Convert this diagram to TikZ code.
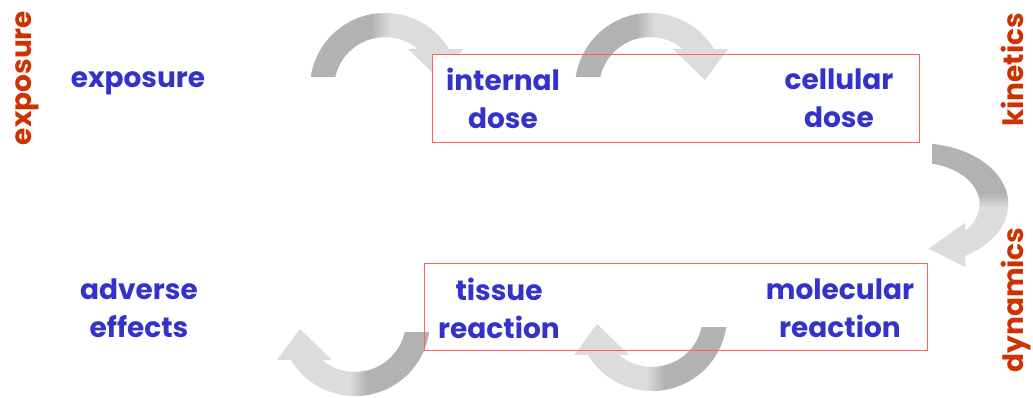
\documentclass[tikz,border=0pt]{standalone}
\usepackage{fontspec}
\setmainfont{Poppins}

\definecolor{txtblue}{RGB}{51,51,204}
\definecolor{txtorange}{RGB}{204,51,0}
\definecolor{boxred}{RGB}{255,96,96}
\definecolor{arrowdark}{RGB}{178,178,178}
\definecolor{arrowlight}{RGB}{220,220,220}

% curved grey arrow: tail on the left, arc over the top, head pointing down
\newcommand{\grayarrow}[1]{%
  \begin{scope}[#1]
    \clip (171.5:75) arc[start angle=171.5, end angle=31.3, radius=75]
      -- (78,39) -- (55,8) -- (23,39)
      -- (49.9:51) arc[start angle=49.9, end angle=167.5, radius=51] -- cycle;
    \fill[arrowlight] (-90,-90) rectangle (90,90);
    \fill[arrowdark] (-90,-90) rectangle (-12,90);
    % soft change from dark to light
    \foreach \i in {1,...,8}
      \fill[arrowdark!\the\numexpr 100-11*\i\relax!arrowlight]
        (-14+2*\i,-90) rectangle (-12+2*\i,90);
  \end{scope}}

\begin{document}
\begin{tikzpicture}[x=1pt, y=1pt,
  lbl/.style={text=txtblue, font=\fontsize{28}{38}\selectfont\bfseries,
    align=center, inner sep=0pt},
  side/.style={lbl, text=txtorange, rotate=90},
  box/.style={draw=boxred, line width=1pt}]

  \fill[white] (0,0) rectangle (1033,397);
  \useasboundingbox (0,0) rectangle (1033,397);

  % kinetics: exposure -> internal -> cellular
  \grayarrow{shift={(385,309)}}
  \fill[white] (432,255) rectangle (919,342);
  \grayarrow{shift={(650,309)}}
  \draw[box] (432,255) rectangle (919,342);

  % kinetics -> dynamics
  \grayarrow{cm={0,-0.81,1.19,0,(919,193)}}

  % dynamics: molecular -> tissue -> adverse
  \grayarrow{shift={(652,81)}, rotate=180}
  \grayarrow{shift={(355,76)}, rotate=180}
  \draw[box] (424,47) rectangle (927,134);

  % labels
  \node[lbl, anchor=base] (exposure) at (138,309) {exposure};
  \node[lbl] (internal) at (503,299) {internal\\dose};
  \node[lbl] (cellular) at (839,299) {cellular\\dose};
  \node[lbl] (molecular) at (840,89) {molecular\\reaction};
  \node[lbl] (tissue) at (499,89) {tissue\\reaction};
  \node[lbl] (adverse) at (139,89) {adverse\\effects};

  % side titles
  \node[side, anchor=base] (exposuretitle) at (31,319) {exposure};
  \node[side, anchor=base] (kinetics) at (1023,327) {kinetics};
  \node[side, anchor=base] (dynamics) at (1023,97) {dynamics};
\end{tikzpicture}
\end{document}
